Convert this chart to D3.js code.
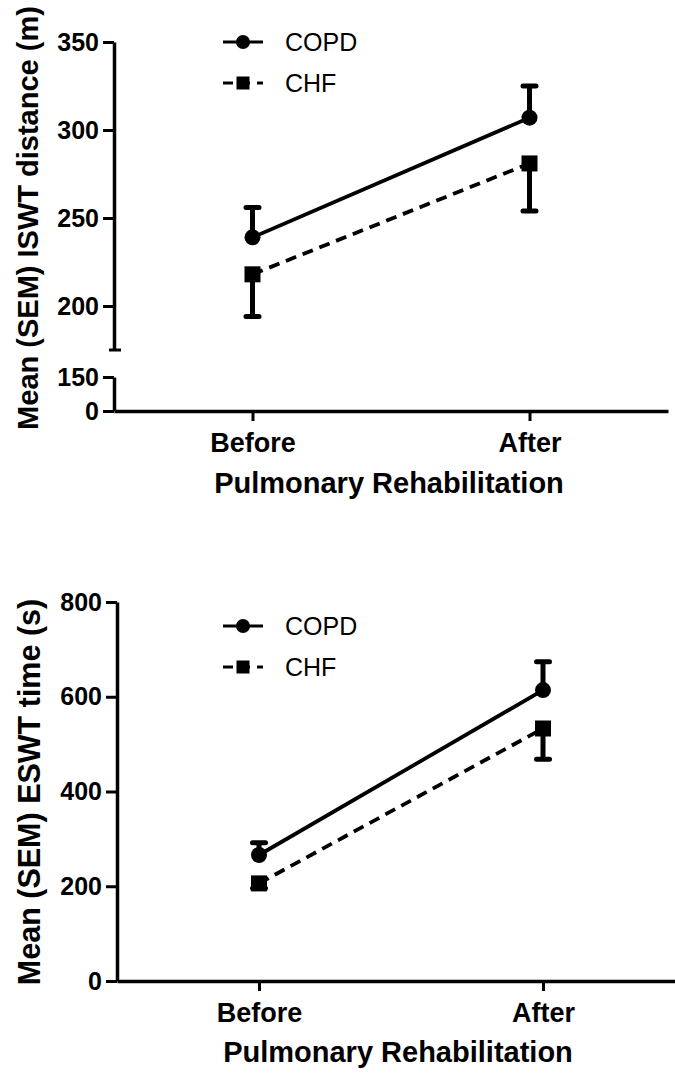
<!DOCTYPE html>
<html>
<head>
<meta charset="utf-8">
<script src="https://cdn.jsdelivr.net/npm/d3@7"></script>
<style>
  body { margin: 0; background: #fff; }
  svg { display: block; font-family: "Liberation Sans", Arial, sans-serif; }
  .axis path, .axis line { stroke: #000; }
  .axis text { font-weight: bold; fill: #000; }
</style>
</head>
<body>
<svg id="chart" width="675" height="1073"></svg>
<script>
const groups = ["Before", "After"];
const seriesNames = ["COPD", "CHF"];

// ISWT distance (m)
const iswtCopdMean = [239, 307];
const iswtCopdSem = [17, 18];
const iswtChfMean = [218, 281];
const iswtChfSem = [24, 27];
const iswtUpperTicks = [200, 250, 300, 350];
const iswtLowerTicks = [0, 150];

// ESWT time (s)
const eswtCopdMean = [266, 614];
const eswtCopdSem = [26, 60];
const eswtChfMean = [206, 533];
const eswtChfSem = [10, 65];
const eswtTicks = [0, 200, 400, 600, 800];

const svg = d3.select("#chart");

function styleAxis(g, fontSize) {
  g.attr("class", "axis");
  g.select(".domain").attr("stroke-width", 3.5);
  g.selectAll(".tick line").attr("stroke-width", 3);
  g.selectAll(".tick text").attr("font-size", fontSize);
}

function drawSeries(g, x, y, means, sems, dir, shape, dashed) {
  const pts = groups.map(function (d, i) {
    return { x: x(d), y: y(means[i]), e: y(means[i] + dir * sems[i]) };
  });

  g.append("path")
    .attr("d", d3.line().x(function (d) { return d.x; }).y(function (d) { return d.y; })(pts))
    .attr("fill", "none")
    .attr("stroke", "#000")
    .attr("stroke-width", 3.8)
    .attr("stroke-dasharray", dashed ? "11,7" : null);

  pts.forEach(function (p) {
    g.append("line")
      .attr("x1", p.x).attr("x2", p.x)
      .attr("y1", p.y).attr("y2", p.e)
      .attr("stroke", "#000").attr("stroke-width", 5);
    g.append("line")
      .attr("x1", p.x - 6.5).attr("x2", p.x + 6.5)
      .attr("y1", p.e).attr("y2", p.e)
      .attr("stroke", "#000").attr("stroke-width", 5)
      .attr("stroke-linecap", "round");
    drawMarker(g, shape, p.x, p.y, 8);
  });
}

function drawMarker(g, shape, cx, cy, r) {
  if (shape === "circle") {
    g.append("circle").attr("cx", cx).attr("cy", cy).attr("r", r).attr("fill", "#000");
  } else {
    g.append("rect").attr("x", cx - r).attr("y", cy - r)
      .attr("width", 2 * r).attr("height", 2 * r).attr("fill", "#000");
  }
}

function drawLegend(g, top) {
  const rows = [
    { name: seriesNames[0], shape: "circle", dashed: false, y: top },
    { name: seriesNames[1], shape: "square", dashed: true, y: top + 41 }
  ];
  rows.forEach(function (r) {
    g.append("line")
      .attr("x1", 223).attr("x2", 263)
      .attr("y1", r.y).attr("y2", r.y)
      .attr("stroke", "#000").attr("stroke-width", 3)
      .attr("stroke-dasharray", r.dashed ? "10,7" : null);
    drawMarker(g, r.shape, 243, r.y, r.shape === "circle" ? 7 : 6.5);
    g.append("text")
      .attr("x", 285).attr("y", r.y + 9)
      .attr("font-size", 25)
      .text(r.name);
  });
}

function drawXAxis(g, x, yPos, titleX, titleY) {
  const ax = g.append("g")
    .attr("transform", `translate(0,${yPos})`)
    .call(d3.axisBottom(x).tickSize(10).tickPadding(12).tickSizeOuter(0));
  styleAxis(ax, 27);

  g.append("text")
    .attr("x", titleX).attr("y", titleY)
    .attr("text-anchor", "middle")
    .attr("font-size", 29).attr("font-weight", "bold")
    .text("Pulmonary Rehabilitation");
}

function drawYTitle(g, text, cx, cy, size) {
  g.append("text")
    .attr("transform", `translate(${cx},${cy}) rotate(-90)`)
    .attr("text-anchor", "middle")
    .attr("dy", "0.35em")
    .attr("font-size", size).attr("font-weight", "bold")
    .text(text);
}

// ---- top panel: ISWT with broken y axis ----
function drawIswt() {
  const g = svg.append("g");
  const left = 114;
  const x = d3.scalePoint().domain(groups).range([left, 668]).padding(0.5);
  const yUpper = d3.scaleLinear().domain([175, 350]).range([350, 42]);
  const yLower = d3.scaleLinear().domain([0, 150]).range([411, 377]);

  const up = g.append("g")
    .attr("transform", `translate(${left},0)`)
    .call(d3.axisLeft(yUpper).tickValues(iswtUpperTicks).tickSize(11).tickPadding(4).tickSizeOuter(0));
  styleAxis(up, 25);
  // small cap at the lower end of the upper segment
  g.append("line")
    .attr("x1", left - 5).attr("x2", left + 7)
    .attr("y1", yUpper(175)).attr("y2", yUpper(175))
    .attr("stroke", "#000").attr("stroke-width", 3);

  const low = g.append("g")
    .attr("transform", `translate(${left},0)`)
    .call(d3.axisLeft(yLower).tickValues(iswtLowerTicks).tickSize(11).tickPadding(4).tickSizeOuter(0));
  styleAxis(low, 25);

  drawXAxis(g, x, 411, 389, 493);
  drawYTitle(g, "Mean (SEM) ISWT distance (m)", 28, 218, 29);

  drawSeries(g, x, yUpper, iswtChfMean, iswtChfSem, -1, "square", true);
  drawSeries(g, x, yUpper, iswtCopdMean, iswtCopdSem, 1, "circle", false);
  drawLegend(g, 42);
}

// ---- bottom panel: ESWT ----
function drawEswt() {
  const g = svg.append("g");
  const left = 117;
  const x = d3.scalePoint().domain(groups).range([left, 685]).padding(0.5);
  const y = d3.scaleLinear().domain([0, 800]).range([981, 602]);

  const ya = g.append("g")
    .attr("transform", `translate(${left},0)`)
    .call(d3.axisLeft(y).tickValues(eswtTicks).tickSize(11).tickPadding(4).tickSizeOuter(0));
  styleAxis(ya, 25);

  drawXAxis(g, x, 981, 398, 1062);
  drawYTitle(g, "Mean (SEM) ESWT time (s)", 29, 792, 30.5);

  drawSeries(g, x, y, eswtChfMean, eswtChfSem, -1, "square", true);
  drawSeries(g, x, y, eswtCopdMean, eswtCopdSem, 1, "circle", false);
  drawLegend(g, 626);
}

drawIswt();
drawEswt();
</script>
</body>
</html>
